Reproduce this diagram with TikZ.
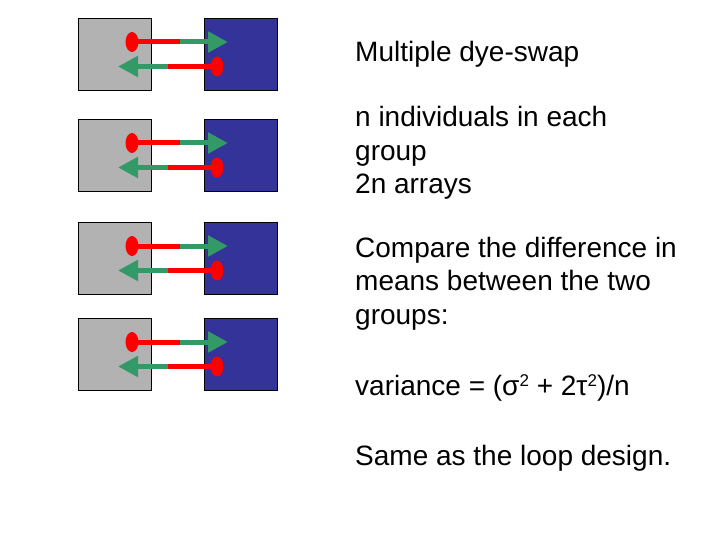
\documentclass[tikz,border=0pt]{standalone}
\usepackage{fontspec}
\setmainfont{Liberation Sans}
\usetikzlibrary{arrows.meta,shapes.geometric}
\definecolor{slidegray}{RGB}{178,178,178}
\definecolor{slideblue}{RGB}{51,51,153}
\definecolor{dyered}{RGB}{255,0,0}
\definecolor{dyegreen}{RGB}{51,153,102}
\newcommand{\sqmark}{\raisebox{9pt}{\fontsize{17}{17}\selectfont 2}}

\begin{document}
\begin{tikzpicture}[x=1pt, y=-1pt,
    array/.style ={draw, line width=0.8pt, inner sep=0pt, minimum width=73pt, minimum height=72pt},
    dot/.style ={ellipse, fill=dyered, inner sep=0pt, minimum width=13pt, minimum height=20pt},
    redline/.style ={draw=dyered, line width=5pt},
    greenarrow/.style ={draw=dyegreen, line width=5pt, -{Triangle[length=20pt, width=20pt]}},
    words/.style ={anchor=base west, inner sep=0pt, font=\fontsize{28}{33.6}\selectfont}]
   \useasboundingbox (0,0) rectangle (720,540);

   \foreach \t [count=\i] in {18,119,222,318} {
     \node[array, fill=slidegray] (g\i) at (114.5,\t+36) {};
     \node[array, fill=slideblue] (b\i) at (240.5,\t+36) {};

     % upper: red to green, pointing right
     \node[dot] (u\i) at (132,\t+24) {};
     \coordinate (um\i) at (180,\t+24);
     \coordinate (ut\i) at (228,\t+24);
     \draw[redline] (u\i.center) -- (um\i);
     \draw[greenarrow] (um\i) -- (ut\i);

     % lower: red to green, pointing left
     \node[dot] (l\i) at (217,\t+48.5) {};
     \coordinate (lm\i) at (168,\t+48.5);
     \coordinate (lt\i) at (118,\t+48.5);
     \draw[redline] (l\i.center) -- (lm\i);
     \draw[greenarrow] (lm\i) -- (lt\i);
   }

   \node[words] (title) at (355,62) {Multiple dye-swap};
   \node[words] (nind) at (355,127) {n individuals in each};
   \node[words] (grp) at (355,160.5) {group};
   \node[words] (arr) at (355,194) {2n arrays};
   \node[words] (cmp) at (355,257) {Compare the difference in};
   \node[words] (mns) at (355,290.5) {means between the two};
   \node[words] (grps) at (355,324) {groups:};
   \node[words] (var) at (355,395) {variance = (σ\sqmark{} + 2τ\sqmark)/n};
   \node[words] (same) at (355,465) {Same as the loop design.};
 \end{tikzpicture}
\end{document}
